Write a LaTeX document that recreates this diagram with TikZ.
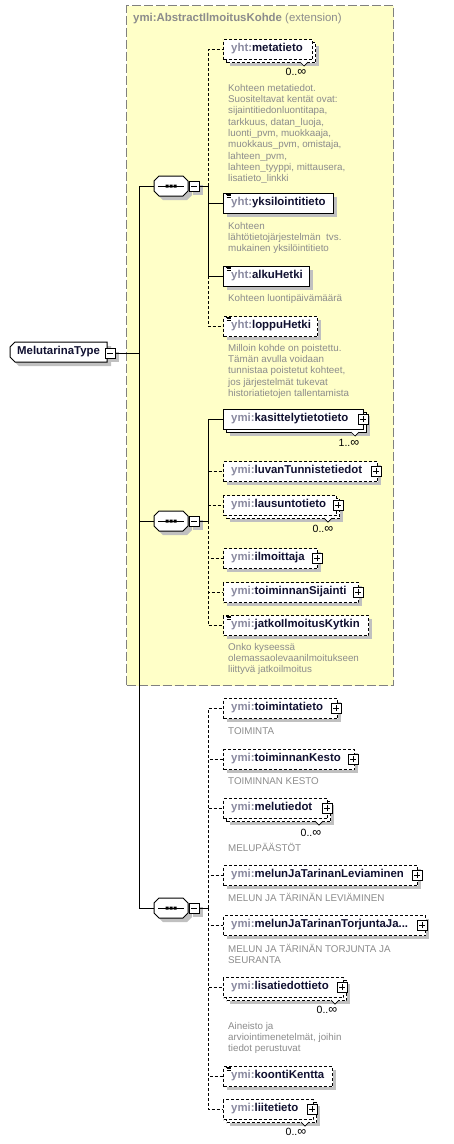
\documentclass[tikz,border=0pt]{standalone}
\usepackage{fontspec}
\setmainfont{Liberation Sans}
\definecolor{extfill}{HTML}{FFFFC8}
\definecolor{extline}{HTML}{808080}
\definecolor{shad}{HTML}{C0C0C0}
\definecolor{prefc}{HTML}{8A8AA0}
\definecolor{namec}{HTML}{101030}
\definecolor{annc}{HTML}{8C8C8C}
\definecolor{titlec}{HTML}{8C8C8C}
\newcommand{\inft}{{\fontsize{12.5}{12}\selectfont ∞}}
\tikzset{
  box/.style={draw=black, fill=white, line width=1pt, minimum height=20pt, inner sep=0pt, anchor=north west},
  opt/.style={dash pattern=on 3pt off 2pt},
  lbl/.style={anchor=west, inner sep=0pt, font=\fontsize{11.4}{13}\selectfont\bfseries, text=namec},
  ann/.style={anchor=north west, inner sep=0pt, align=left, font=\fontsize{9.8}{11.3}\selectfont, text=annc},
  mult/.style={inner sep=0pt, font=\fontsize{10.5}{12}\selectfont},
  pmbox/.style={draw=black, fill=white, line width=0.8pt, minimum size=10pt, inner sep=0pt},
  conn/.style={line width=1pt},
  ghost/.style={draw=none, inner sep=0pt, minimum width=34pt, minimum height=20pt},
}
% plain element: name, top, right, style, prefix, local name
\newcommand{\elm}[6]{%
  \fill[shad] (227,#2+4) rectangle (#3+4,#2+24);
  \node[box,#4,minimum width=#3-223] (#1) at (223,#2) {};
  \node[lbl] (#1-l) at (231,#2+10) {\textcolor{prefc}{#5:}#6};
}
% stacked (multiple) element
\newcommand{\selm}[6]{%
  \fill[shad] (230,#2+7) rectangle (#3+7,#2+27);
  \node[box,#4,minimum width=#3-223] (#1-b) at (226,#2+3) {};
  \draw[line width=0.7pt, fill=white] (#3-12,#2+23) -- (#3-8,#2+27) -- (#3-4,#2+23);
  \node[box,#4,minimum width=#3-223] (#1) at (223,#2) {};
  \node[lbl] (#1-l) at (231,#2+10) {\textcolor{prefc}{#5:}#6};
}
\newcommand{\plusbox}[3]{%
  \node[pmbox] (#1) at (#2,#3) {};
  \draw[line width=0.8pt] ([xshift=-3pt]#1.center) -- ([xshift=3pt]#1.center)
        ([yshift=-3pt]#1.center) -- ([yshift=3pt]#1.center);
}
\newcommand{\minusbox}[3]{%
  \node[pmbox] (#1) at (#2,#3) {};
  \draw[line width=0.8pt] ([xshift=-3pt]#1.center) -- ([xshift=3pt]#1.center);
}
\newcommand{\docicon}[1]{%
  \draw[line width=0.7pt] (225.5,#1+1) -- (231,#1+1) (226.5,#1+2.8) -- (231,#1+2.8) (226.5,#1+4.6) -- (231,#1+4.6);
}
% sequence compositor: name, center y
\newcommand{\seqc}[2]{%
  \fill[shad] (158,#2-1) -- (163,#2-6) -- (187,#2-6) -- (192,#2-1) -- (192,#2+9) -- (187,#2+14) -- (163,#2+14) -- (158,#2+9) -- cycle;
  \draw[fill=white, line width=1pt] (154,#2-5) -- (159,#2-10) -- (183,#2-10) -- (188,#2-5) -- (188,#2+5) -- (183,#2+10) -- (159,#2+10) -- (154,#2+5) -- cycle;
  \node[ghost] (#1) at (171,#2) {};
  \draw[line width=1pt] (158,#2) -- (184,#2);
  \fill (165.5,#2-1.5) rectangle ++(3,3) (169.5,#2-1.5) rectangle ++(3,3) (173.5,#2-1.5) rectangle ++(3,3);
  \fill[shad] (193,#2-1) rectangle (203,#2+9);
  \minusbox{#1-m}{194}{#2}
}
\begin{document}
\begin{tikzpicture}[x=1pt,y=-1pt]
\useasboundingbox (0,0) rectangle (453,1144);
\fill[white] (0,0) rectangle (453,1144);
% extension box
\node[draw=extline, fill=extfill, line width=1.4pt, dash pattern=on 9pt off 3pt,
      minimum width=267pt, minimum height=680pt, anchor=north west, inner sep=0pt] (ext) at (126,5) {};
\node[anchor=west, inner sep=0pt, font=\fontsize{11.4}{13}\selectfont, text=titlec] (ext-t) at (133,19)
   {\textbf{ymi:AbstractIlmoitusKohde} (extension)};

% root
\fill[shad] (14,351) -- (19,346) -- (111,346) -- (111,366) -- (19,366) -- (14,361) -- cycle;
\draw[fill=white, line width=1pt] (10,347) -- (15,342) -- (107,342) -- (107,362) -- (15,362) -- (10,357) -- cycle;
\node[draw=none, inner sep=0pt, minimum width=97pt, minimum height=20pt, anchor=north west] (mt) at (10,342) {};
\node[lbl, text=namec] (mt-l) at (17,352) {MelutarinaType};
\fill[shad] (109,352) rectangle (119,362);
\minusbox{mt-m}{110}{353}

% compositors
\seqc{s1}{186}
\seqc{s2}{521}
\seqc{s3}{908}

% main connectors
\coordinate (mj) at (139.5,353);
\draw[conn] (mt-m.east) -- (mj);
\draw[conn] (mj) |- (s1.west);
\draw[conn] (mj) |- (s2.west);
\draw[conn] (mj) |- (s3.west);

% sequence junctions
\coordinate (j1) at (208,186);
\coordinate (j2) at (208,521);
\coordinate (j3) at (208,908);
\draw[conn] (s1-m.east) -- (j1);
\draw[conn] (s2-m.east) -- (j2);
\draw[conn] (s3-m.east) -- (j3);

% ---------- sequence 1 ----------
\selm{meta}{39}{312}{opt}{yht}{metatieto}
\node[mult] (meta-m) at (296,72) {0..\inft};
\node[ann] (meta-a) at (228,84) {Kohteen metatiedot.\\Suositeltavat kentät ovat:\\sijaintitiedonluontitapa,\\tarkkuus, datan\_luoja,\\luonti\_pvm, muokkaaja,\\muokkaus\_pvm, omistaja,\\lahteen\_pvm,\\lahteen\_tyyppi, mittausera,\\lisatieto\_linkki};

\elm{yks}{193}{333}{}{yht}{yksilointitieto}
\docicon{193}
\node[ann] (yks-a) at (228,222) {Kohteen\\lähtötietojärjestelmän\ \ tvs.\\mukainen yksilöintitieto};

\elm{alku}{266}{309}{}{yht}{alkuHetki}
\docicon{266}
\node[ann] (alku-a) at (228,294) {Kohteen luontipäivämäärä};

\elm{loppu}{316}{317}{opt}{yht}{loppuHetki}
\docicon{316}
\node[ann] (loppu-a) at (228,344) {Milloin kohde on poistettu.\\Tämän avulla voidaan\\tunnistaa poistetut kohteet,\\jos järjestelmät tukevat\\historiatietojen tallentamista};

\draw[conn,opt] (j1) |- (meta.west);
\draw[conn,opt] (j1) |- (loppu.west);
\draw[conn] (j1) |- (yks.west);
\draw[conn] (j1) |- (alku.west);

% ---------- sequence 2 ----------
\selm{kas}{409}{363}{}{ymi}{kasittelytietotieto}
\plusbox{kas-p}{363}{419}
\node[mult] (kas-m) at (349,443) {1..\inft};

\elm{luvan}{461}{377}{opt}{ymi}{luvanTunnistetiedot}
\plusbox{luvan-p}{376}{471}

\selm{laus}{495}{336}{opt}{ymi}{lausuntotieto}
\plusbox{laus-p}{338}{505}
\node[mult] (laus-m) at (323,529) {0..\inft};

\elm{ilm}{548}{317}{opt}{ymi}{ilmoittaja}
\plusbox{ilm-p}{317}{558}

\elm{toimsij}{582}{358}{opt}{ymi}{toiminnanSijainti}
\plusbox{toimsij-p}{358}{592}

\elm{jatko}{615}{368}{opt}{ymi}{jatkoIlmoitusKytkin}
\docicon{615}
\node[ann] (jatko-a) at (228,643) {Onko kyseessä\\olemassaolevaanilmoitukseen\\liittyvä jatkoilmoitus};

\draw[conn,opt] (j2) |- (luvan.west);
\draw[conn,opt] (j2) |- (laus.west);
\draw[conn,opt] (j2) |- (ilm.west);
\draw[conn,opt] (j2) |- (toimsij.west);
\draw[conn,opt] (j2) |- (jatko.west);
\draw[conn] (j2) |- (kas.west);

% ---------- sequence 3 ----------
\elm{toimt}{698}{337}{opt}{ymi}{toimintatieto}
\plusbox{toimt-p}{336}{708}
\node[ann] (toimt-a) at (228,727) {TOIMINTA};

\elm{toimk}{749}{354}{opt}{ymi}{toiminnanKesto}
\plusbox{toimk-p}{353}{759}
\node[ann] (toimk-a) at (228,777) {TOIMINNAN KESTO};

\selm{melu}{798}{327}{opt}{ymi}{melutiedot}
\plusbox{melu-p}{327}{808}
\node[mult] (melu-m) at (311,833) {0..\inft};
\node[ann] (melu-a) at (228,843) {MELUPÄÄSTÖT};

\elm{lev}{865}{417}{opt}{ymi}{melunJaTarinanLeviaminen}
\plusbox{lev-p}{417}{875}
\node[ann] (lev-a) at (228,893) {MELUN JA TÄRINÄN LEVIÄMINEN};

\elm{torj}{915}{425}{opt}{ymi}{melunJaTarinanTorjuntaJa...}
\plusbox{torj-p}{422}{925}
\node[ann] (torj-a) at (228,944) {MELUN JA TÄRINÄN TORJUNTA JA\\SEURANTA};

\selm{lisa}{977}{343}{opt}{ymi}{lisatiedottieto}
\plusbox{lisa-p}{342}{987}
\node[mult] (lisa-m) at (327,1010) {0..\inft};
\node[ann] (lisa-a) at (228,1022) {Aineisto ja\\arviointimenetelmät, joihin\\tiedot perustuvat};

\elm{koonti}{1066}{332}{opt}{ymi}{koontiKentta}
\docicon{1066}

\selm{liite}{1099}{313}{opt}{ymi}{liitetieto}
\plusbox{liite-p}{312}{1109}
\node[mult] (liite-m) at (296,1132) {0..\inft};

\draw[conn,opt] (j3) |- (toimt.west);
\draw[conn,opt] (j3) |- (toimk.west);
\draw[conn,opt] (j3) |- (melu.west);
\draw[conn,opt] (j3) |- (lev.west);
\draw[conn,opt] (j3) |- (torj.west);
\draw[conn,opt] (j3) |- (lisa.west);
\draw[conn,opt] (j3) |- (koonti.west);
\draw[conn,opt] (j3) |- (liite.west);
\end{tikzpicture}
\end{document}
